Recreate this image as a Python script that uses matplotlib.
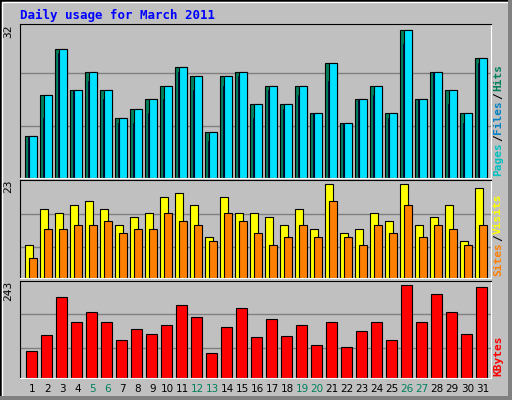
import matplotlib
matplotlib.use("Agg")
import matplotlib.pyplot as plt
from matplotlib.patches import Rectangle
import numpy as np

days = list(range(1, 32))
weekend = [5, 6, 12, 13, 19, 20, 26, 27]
hits = [9, 18, 28, 19, 23, 19, 13, 15, 17, 20, 24, 22, 10, 22, 23, 16, 20, 16, 20, 14, 25, 12, 17, 20, 14, 32, 17, 23, 19, 14, 26]
files = [9, 18, 28, 19, 23, 19, 13, 15, 17, 20, 24, 22, 10, 22, 23, 16, 20, 16, 20, 14, 25, 12, 17, 20, 14, 32, 17, 23, 19, 14, 26]
pages = [9, 13, 27, 19, 21, 17, 12, 12, 14, 17, 23, 19, 8, 20, 22, 13, 19, 15, 18, 14, 21, 12, 17, 18, 13, 29, 17, 23, 16, 12, 25]
sites = [8, 17, 16, 18, 19, 17, 13, 15, 16, 20, 21, 18, 10, 20, 16, 16, 15, 13, 17, 12, 23, 11, 12, 16, 14, 23, 13, 15, 18, 9, 22]
visits = [5, 12, 12, 13, 13, 14, 11, 12, 12, 16, 14, 13, 9, 16, 14, 11, 8, 10, 13, 10, 19, 10, 8, 13, 11, 18, 10, 13, 12, 8, 13]
kbytes = [70, 113, 211, 147, 171, 145, 99, 129, 115, 139, 190, 158, 65, 134, 182, 107, 153, 110, 139, 86, 147, 81, 123, 145, 99, 243, 147, 219, 171, 115, 238]

W, H = 512, 400
fig = plt.figure(figsize=(W / 100, H / 100), dpi=100)
fig.patch.set_facecolor("#c0c0c0")
mono = "DejaVu Sans Mono"

# bevel border
fig.patches.append(Rectangle((0, 0), 1, 1, transform=fig.transFigure, fill=False, ec="black", lw=2))
fig.patches.append(Rectangle((2 / W, 2 / H), 1 - 4 / W, 1 - 4 / H, transform=fig.transFigure, fill=False, ec="white", lw=1))
fig.patches.append(Rectangle((0, 0), 1, 4 / H, transform=fig.transFigure, color="#808080", lw=0))
fig.patches.append(Rectangle((1 - 4 / W, 0), 4 / W, 1, transform=fig.transFigure, color="#808080", lw=0))


def make_ax(top, bottom):
    ax = fig.add_axes([20 / W, 1 - bottom / H, 471 / W, (bottom - top) / H])
    ax.set_facecolor("#c0c0c0")
    ax.set_xlim(-0.353, 31.05)
    for s in ax.spines.values():
        s.set_color("black")
    ax.spines["right"].set_color("white")
    ax.spines["bottom"].set_color("white")
    ax.set_xticks([])
    ax.set_yticks([])
    return ax


x = np.arange(31)

ax1 = make_ax(24, 178)
top = max(hits) / 0.96
ax1.set_ylim(0, top)
for f in (0.337, 0.68):
    ax1.axhline(top * f, color="#808080", lw=1, zorder=0)
ax1.bar(x, hits, width=0.76, align="edge", color="#00805c", ec="black", lw=0.8)
ax1.bar(x + 0.25, files, width=0.51, align="edge", color="#00e0ff", ec="black", lw=0.8)
ax1.bar(x + 0.15, pages, width=0.1, align="edge", color="#0000ff", ec="black", lw=0.5)

ax2 = make_ax(180, 278)
top = max(sites) / 0.955
ax2.set_ylim(0, top)
for f in (0.315, 0.654):
    ax2.axhline(top * f, color="#808080", lw=1, zorder=0)
ax2.bar(x, sites, width=0.53, align="edge", color="#ffff00", ec="black", lw=0.8)
ax2.bar(x + 0.27, visits, width=0.49, align="edge", color="#ff8000", ec="black", lw=0.8)

ax3 = make_ax(281, 378)
top = max(kbytes) / 0.96
ax3.set_ylim(0, top)
for f in (0.31, 0.656):
    ax3.axhline(top * f, color="#808080", lw=1, zorder=0)
ax3.bar(x + 0.067, kbytes, width=0.69, align="edge", color="#ff0000", ec="black", lw=0.8)

# max labels on the left
for ax, val in ((ax1, max(hits)), (ax2, max(sites)), (ax3, max(kbytes))):
    ax.text(-0.015, 1.0, str(val), transform=ax.transAxes, rotation=90, ha="right", va="top",
            fontsize=8, family=mono)

renderer = fig.canvas.get_renderer()


# right side legends, read bottom to top
def side_legend(ax, parts):
    ypix = ax.get_position().y0 * H + 2
    for txt, col in parts:
        t = fig.text(498 / W, ypix / H, txt, rotation=90, ha="center", va="bottom", color=col,
                     fontsize=8, family=mono, fontweight="bold")
        ypix += t.get_window_extent(renderer).height + 1


side_legend(ax1, [("Pages", "#00c0c0"), ("/", "#000000"), ("Files", "#0080c0"), ("/", "#000000"), ("Hits", "#00805c")])
side_legend(ax2, [("Sites", "#ff8000"), ("/", "#000000"), ("Visits", "#ffff00")])
side_legend(ax3, [("KBytes", "#ff0000")])

# day labels
for i, d in enumerate(days):
    xp = (20 + 5.3 + i * 15 + 7) / W
    col = "#00805c" if d in weekend else "black"
    fig.text(xp, 1 - 389 / H, str(d), ha="center", va="center", fontsize=7.5, color=col)

fig.text(20 / W, 1 - 15 / H, "Daily usage for March 2011", color="#0000ff", fontsize=9,
         family=mono, fontweight="bold", va="center", ha="left")

fig.savefig("out.png", dpi=100, facecolor=fig.get_facecolor())
